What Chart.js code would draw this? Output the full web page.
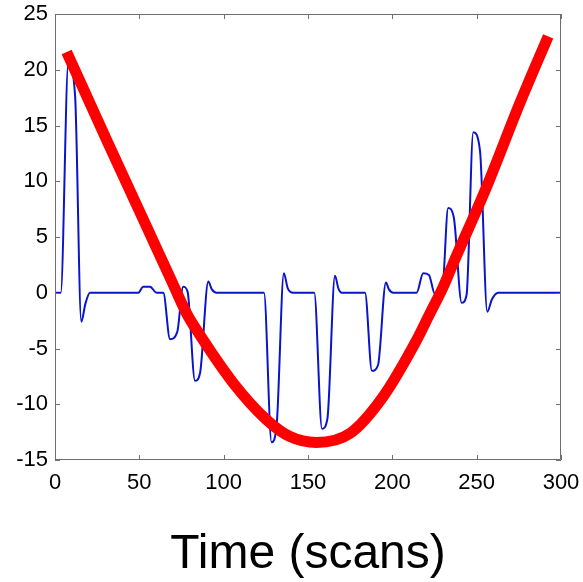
<!DOCTYPE html>
<html>
<head>
<meta charset="utf-8">
<script src="https://cdn.jsdelivr.net/npm/chart.js@4/dist/chart.umd.min.js"></script>
<style>
  html, body { margin: 0; padding: 0; background: #fff; }
  #chart { display: block; }
</style>
</head>
<body>
<canvas id="chart" width="583" height="582"></canvas>
<script>
// signal (blue)
const signalX = [0, 3.4, 7.9, 11.9, 15.6, 18, 20.7, 49.4, 52.3, 56.3, 60.3, 64.2,
  68.2, 72.5, 76, 78.6, 83, 86, 90.9, 93, 95.8, 123.9, 128.4, 131.4, 135.7, 138,
  141.3, 153.7, 158.3, 161.5, 166, 168, 170, 183.8, 187.9, 191.5, 196.2, 198, 200.5,
  214.4, 218.3, 221.7, 225.2, 229.5, 233.1, 236.5, 241.1, 244, 248, 252, 256.3,
  259, 262.8, 300];
const signalY = [0, 0, 20.6, 17.7, -2.6, -1, 0, 0, 0.54, 0.54, 0, 0,
  -4.17, -3.5, 0.54, 0.1, -7.9, -7.2, 1.0, 0.3, 0, 0, -13.4, -11.9, 1.74, 0.4,
  0, 0, -12.2, -11.3, 1.53, 0.4, 0, 0, -7.0, -6.5, 0.93, 0.3, 0,
  0, 1.74, 1.6, -0.1, 0.1, 7.6, 6.7, -0.9, -0.2, 14.4, 12.7, -1.7,
  -0.6, 0, 0];

// fitted curve (red)
const fitX = [6.9, 30.6, 54.4, 69, 78, 84, 105.7, 125.5, 139.3, 155, 175, 194.6,
  214.4, 222.3, 230.2, 236.1, 255.9, 275.6, 292.4];
const fitY = [21.6, 13.7, 5.9, 1.1, -1.85, -3.35, -8.1, -11.4, -12.9, -13.43, -12.6, -9.3,
  -4.25, -1.85, 0.54, 2.64, 9.5, 17.0, 23.0];

const xTicks = [0, 50, 100, 150, 200, 250, 300];
const yTicks = [-15, -10, -5, 0, 5, 10, 15, 20, 25];

const toPoints = (xs, ys) => xs.map((x, i) => ({ x: x, y: ys[i] }));

const FONT = '"Liberation Sans", Arial, Helvetica, sans-serif';

// matlab style box with inward ticks
const boxPlugin = {
  id: 'box',
  afterDraw(chart) {
    const { ctx, chartArea: a, scales: { x, y } } = chart;
    const len = 5;
    ctx.save();
    ctx.strokeStyle = '#6e6e6e';
    ctx.lineWidth = 1;
    ctx.beginPath();
    ctx.rect(a.left + 0.5, a.top + 0.5, a.right - a.left - 1, a.bottom - a.top - 1);
    xTicks.forEach(v => {
      const px = Math.round(x.getPixelForValue(v)) + 0.5;
      ctx.moveTo(px, a.bottom); ctx.lineTo(px, a.bottom - len);
      ctx.moveTo(px, a.top); ctx.lineTo(px, a.top + len);
    });
    yTicks.forEach(v => {
      const py = Math.round(y.getPixelForValue(v)) + 0.5;
      ctx.moveTo(a.left, py); ctx.lineTo(a.left + len, py);
      ctx.moveTo(a.right, py); ctx.lineTo(a.right - len, py);
    });
    ctx.stroke();
    ctx.restore();
  }
};

new Chart(document.getElementById('chart'), {
  type: 'line',
  data: {
    datasets: [
      {
        data: toPoints(fitX, fitY),
        borderColor: '#ff0000',
        borderWidth: 11,
        pointRadius: 0,
        cubicInterpolationMode: 'monotone',
        fill: false,
        order: 0
      },
      {
        data: toPoints(signalX, signalY),
        borderColor: '#0a14c8',
        borderWidth: 2,
        pointRadius: 0,
        cubicInterpolationMode: 'monotone',
        fill: false,
        order: 1
      }
    ]
  },
  options: {
    responsive: false,
    animation: false,
    layout: { padding: { top: 14, right: 22, left: 0, bottom: 0 } },
    plugins: { legend: { display: false }, tooltip: { enabled: false } },
    scales: {
      x: {
        type: 'linear',
        min: 0,
        max: 300,
        afterBuildTicks: s => { s.ticks = xTicks.map(v => ({ value: v })); },
        afterFit: s => { s.height = 122; s.paddingLeft = 0; s.paddingRight = 0; },
        grid: { display: false, drawTicks: false },
        border: { display: false },
        ticks: { color: '#000', padding: 10, maxRotation: 0, font: { family: FONT, size: 22 } },
        title: {
          display: true,
          text: 'Time (scans)',
          color: '#000',
          padding: { top: 0, bottom: 1 },
          font: { family: FONT, size: 48, lineHeight: 1.1 }
        }
      },
      y: {
        min: -15,
        max: 25,
        afterBuildTicks: s => { s.ticks = yTicks.map(v => ({ value: v })); },
        afterFit: s => { s.width = 55; s.paddingTop = 0; s.paddingBottom = 0; },
        grid: { display: false, drawTicks: false },
        border: { display: false },
        ticks: { color: '#000', padding: 7, font: { family: FONT, size: 22 } }
      }
    }
  },
  plugins: [boxPlugin]
});
</script>
</body>
</html>
